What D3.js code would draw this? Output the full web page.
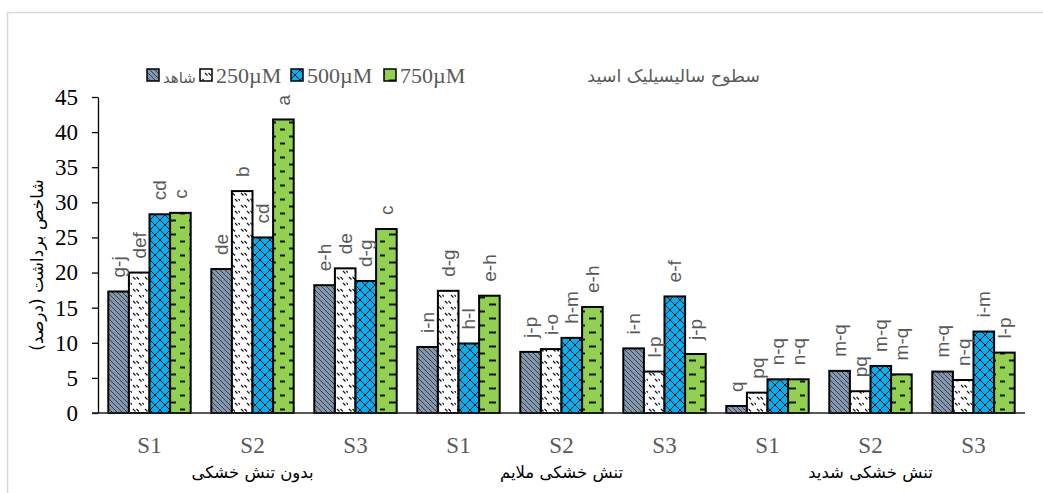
<!DOCTYPE html>
<html>
<head>
<meta charset="utf-8" />
<title>Harvest index</title>
<style>
body { margin: 0; background: #fff; }
#graph { width: 1043px; height: 493px; }
.num { font-family: "Liberation Serif", "Times New Roman", serif; }
.fa { font-family: "DejaVu Sans", sans-serif; }
.lbl { font-family: "Liberation Sans", Arial, sans-serif; font-size: 19px; fill: #595959; }
</style>
</head>
<body>
<div id="graph"></div>
<script src="https://cdnjs.cloudflare.com/ajax/libs/d3/7.8.5/d3.min.js"></script>
<script>
// data
var stressGroups = ["بدون تنش خشکی", "تنش خشکی ملایم", "تنش خشکی شدید"]
var sLevels = ["S1", "S2", "S3"]
var seriesNames = ["شاهد", "250µM", "500µM", "750µM"]
var legendTitle = "سطوح سالیسیلیک اسید"
var yTitle = "شاخص برداشت (درصد)"
var yTicks = [0, 5, 10, 15, 20, 25, 30, 35, 40, 45]

var control = [17.3, 20.5, 18.2, 9.4, 8.7, 9.2, 1.0, 6.0, 5.9]
var sa250 = [20.0, 31.6, 20.6, 17.4, 9.1, 5.9, 2.9, 3.1, 4.7]
var sa500 = [28.3, 25.0, 18.8, 9.9, 10.7, 16.6, 4.8, 6.7, 11.6]
var sa750 = [28.5, 41.8, 26.2, 16.7, 15.1, 8.4, 4.8, 5.5, 8.6]

var letControl = ["g-j", "de", "e-h", "i-n", "j-p", "i-n", "q", "m-q", "m-q"]
var let250 = ["def", "b", "de", "d-g", "i-o", "l-p", "pq", "pq", "n-q"]
var let500 = ["cd", "cd", "d-g", "h-l", "h-m", "e-f", "n-q", "m-q", "i-m"]
var let750 = ["c", "a", "c", "e-h", "e-h", "j-p", "n-q", "m-q", "l-p"]

!(function(){
    "use strict"

    var width = 1043, height = 493
    var margin = {top: 97, left: 98, bottom: 80, right: 18}
    var chartWidth = width - margin.left - margin.right
    var chartHeight = height - margin.top - margin.bottom

    var values = [control, sa250, sa500, sa750]
    var letters = [letControl, let250, let500, let750]
    var patIds = ["p0", "p1", "p2", "p3"]

    var cats = []
    stressGroups.forEach(function(g, gi){
        sLevels.forEach(function(s, si){ cats.push({key: gi + "_" + s, g: gi, s: s, i: gi * 3 + si}) })
    })

    var svg = d3.select("#graph").append("svg").attr("width", width).attr("height", height)

    // chart border
    svg.append("rect").attr("x", 7.5).attr("y", 12.5).attr("width", 1060).attr("height", 500)
        .attr("fill", "none").attr("stroke", "#d9d9d9").attr("stroke-width", 1.5)

    var defs = svg.append("defs")
    var p0 = defs.append("pattern").attr("id", "p0").attr("patternUnits", "userSpaceOnUse").attr("width", 5).attr("height", 5)
    p0.append("rect").attr("width", 5).attr("height", 5).attr("fill", "#8497b0")
    p0.append("path").attr("d", "M-1,-1L6,6M-1,4L1,6M4,-1L6,1").attr("stroke", "#333").attr("stroke-width", 0.9)

    var p1 = defs.append("pattern").attr("id", "p1").attr("patternUnits", "userSpaceOnUse").attr("width", 12).attr("height", 12)
    p1.append("rect").attr("width", 12).attr("height", 12).attr("fill", "#fff")
    p1.append("path").attr("d", "M1,1L3.5,3.5M4.5,1L7,3.5M7,7L9.5,9.5M10.5,7L13,9.5").attr("stroke", "#111").attr("stroke-width", 1.1)

    var p2 = defs.append("pattern").attr("id", "p2").attr("patternUnits", "userSpaceOnUse").attr("width", 10).attr("height", 10)
    p2.append("rect").attr("width", 10).attr("height", 10).attr("fill", "#00b0f0")
    p2.append("path").attr("d", "M0,0L10,10M10,0L0,10").attr("stroke", "#111").attr("stroke-width", 1)

    var p3 = defs.append("pattern").attr("id", "p3").attr("patternUnits", "userSpaceOnUse").attr("width", 20).attr("height", 14)
    p3.append("rect").attr("width", 20).attr("height", 14).attr("fill", "#92d050")
    p3.append("path").attr("d", "M0,3.5H5M9,10.5H16").attr("stroke", "#111").attr("stroke-width", 2)

    var x0 = d3.scaleBand().domain(cats.map(function(d){ return d.key }))
        .range([margin.left, margin.left + chartWidth]).paddingInner(0.2).paddingOuter(0.1)
    var x1 = d3.scaleBand().domain(d3.range(4)).range([0, x0.bandwidth()])
    var y = d3.scaleLinear().domain([0, 45]).range([margin.top + chartHeight, margin.top])

    // y axis
    var yAxis = d3.axisLeft(y).tickValues(yTicks).tickSizeOuter(0).tickSizeInner(6).tickPadding(14)
    var ga = svg.append("g").attr("transform", "translate(" + margin.left + ",0)").call(yAxis)
    ga.select(".domain").attr("stroke", "#000").attr("stroke-width", 1.3)
    ga.selectAll(".tick line").attr("stroke", "#000").attr("stroke-width", 1.3)
    ga.selectAll(".tick text").attr("class", "num").attr("font-size", 23).attr("fill", "#000")

    // bars
    values.forEach(function(vals, k){
        svg.append("g").selectAll("rect").data(cats).enter().append("rect")
            .attr("x", function(d){ return x0(d.key) + x1(k) })
            .attr("y", function(d){ return y(vals[d.i]) })
            .attr("width", x1.bandwidth())
            .attr("height", function(d){ return y(0) - y(vals[d.i]) })
            .attr("fill", "url(#" + patIds[k] + ")")
            .attr("stroke", "#000").attr("stroke-width", 2)
    })

    // letters
    values.forEach(function(vals, k){
        svg.append("g").selectAll("text").data(cats).enter().append("text")
            .attr("class", "lbl")
            .attr("transform", function(d){
                return "translate(" + (x0(d.key) + x1(k) + x1.bandwidth() / 2) + "," + (y(vals[d.i]) - 14) + ") rotate(-90)"
            })
            .attr("dy", "0.35em")
            .text(function(d){ return letters[k][d.i] })
    })

    // x axis line
    svg.append("line").attr("x1", margin.left - 6).attr("x2", margin.left + chartWidth)
        .attr("y1", y(0)).attr("y2", y(0)).attr("stroke", "#222").attr("stroke-width", 1.5)

    // x labels
    svg.append("g").selectAll("text").data(cats).enter().append("text")
        .attr("class", "num").attr("font-size", 23).attr("fill", "#595959")
        .attr("text-anchor", "middle")
        .attr("x", function(d){ return x0(d.key) + x0.bandwidth() / 2 })
        .attr("y", 453)
        .text(function(d){ return d.s })

    svg.append("g").selectAll("text").data(stressGroups).enter().append("text")
        .attr("class", "fa").attr("font-size", 16.5).attr("fill", "#000")
        .attr("text-anchor", "middle")
        .attr("x", function(d, gi){ return x0(gi + "_S2") + x0.bandwidth() / 2 })
        .attr("y", 478)
        .text(function(d){ return d })

    // y title
    svg.append("text").attr("class", "fa").attr("font-size", 17).attr("fill", "#000")
        .attr("text-anchor", "middle")
        .attr("transform", "translate(37,265) rotate(-90)")
        .attr("dy", "0.35em")
        .text(yTitle)

    // legend
    var legX = [147, 200, 291, 384]
    var leg = svg.append("g")
    seriesNames.forEach(function(n, k){
        leg.append("rect").attr("x", legX[k]).attr("y", 69).attr("width", 12).attr("height", 12)
            .attr("fill", "url(#" + patIds[k] + ")").attr("stroke", "#000").attr("stroke-width", 1.5)
        leg.append("text").attr("class", k == 0 ? "fa" : "num")
            .attr("font-size", k == 0 ? 15 : 22).attr("fill", "#595959")
            .attr("x", legX[k] + 16).attr("y", 83)
            .text(n)
    })
    leg.append("text").attr("class", "fa").attr("font-size", 17.5).attr("fill", "#595959")
        .attr("text-anchor", "end")
        .attr("x", 760).attr("y", 82)
        .text(legendTitle)
}());
</script>
</body>
</html>
